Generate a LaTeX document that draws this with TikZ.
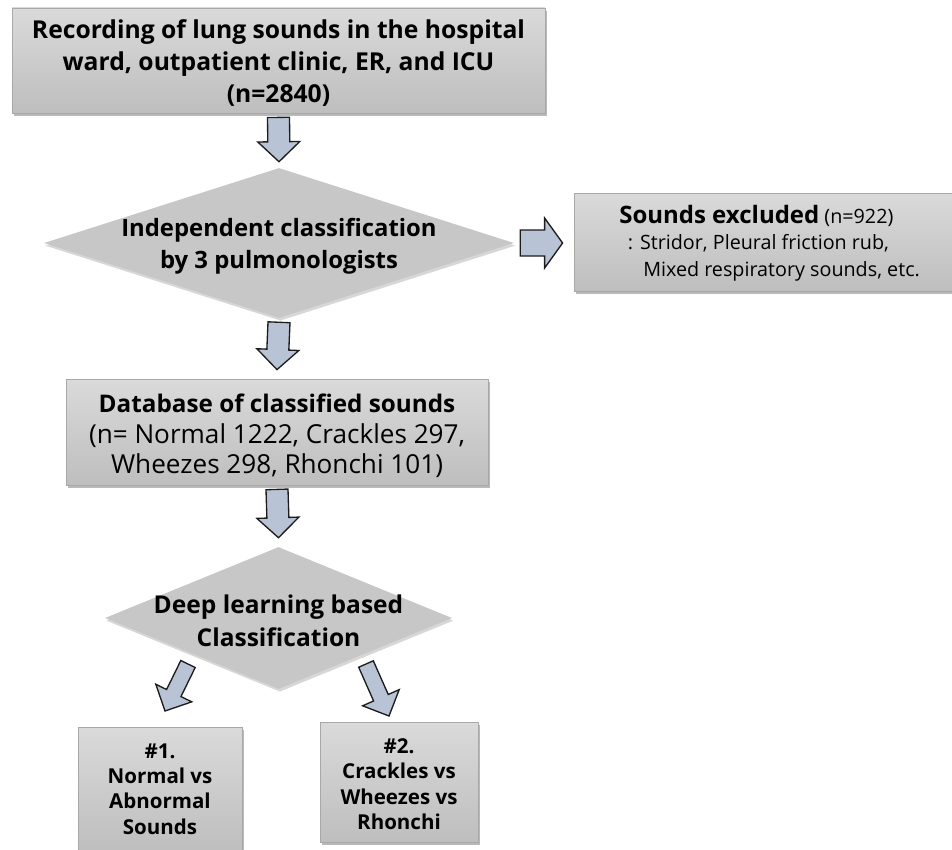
\documentclass[tikz,border=0pt]{standalone}
\usepackage{fontspec}
\setmainfont{Open Sans}
\usetikzlibrary{shapes.geometric,shadows,calc}
\definecolor{boxtop}{HTML}{DADADA}
\definecolor{boxbot}{HTML}{BEBEBE}
\definecolor{boxline}{HTML}{A8A8A8}
\definecolor{arrfill}{HTML}{B8C3D5}
\definecolor{arrline}{HTML}{1C1C1C}
\definecolor{diafill}{HTML}{C7C7C7}
\newcommand\blockarr[5]{%
  \coordinate (ba-h) at ($(#2)!#5!(#1)$);
  \draw[barr] ($(#1)!#3!90:(#2)$) -- ($(ba-h)!#3!90:(#2)$) -- ($(ba-h)!#4!90:(#2)$) -- (#2)
    -- ($(ba-h)!#4!-90:(#2)$) -- ($(ba-h)!#3!-90:(#2)$) -- ($(#1)!#3!-90:(#2)$) -- cycle;}
\begin{document}
\begin{tikzpicture}[x=0.75pt,y=-0.75pt,
  box/.style={draw=boxline, line width=0.6pt, top color=boxtop, bottom color=boxbot,
    inner sep=0pt, drop shadow={shadow xshift=1.5pt, shadow yshift=-2.5pt, fill=black!50, opacity=0.55}},
  dia/.style={diamond, fill=diafill, inner sep=0pt,
    drop shadow={shadow xshift=1pt, shadow yshift=-2pt, fill=black!35, opacity=0.45}},
  txt/.style={align=center, inner sep=0pt},
  smalltxt/.style={txt, font=\fontsize{15.4}{19}\selectfont\bfseries},
  barr/.style={draw=arrline, line width=1pt, fill=arrfill, line join=miter}]
\useasboundingbox (0,0) rectangle (952,849);

% boxes and diamonds
\node[box, minimum width=533*0.75pt, minimum height=105*0.75pt] (rec) at (278.5,60.5) {};
\node[txt, font=\fontsize{18.5}{24}\selectfont\bfseries] (rect) at (278.5,63)
  {Recording of lung sounds in the hospital\\ward, outpatient clinic, ER, and ICU\\(n=2840)};

\node[dia, minimum width=470*0.75pt, minimum height=150*0.75pt] (d1) at (279,243) {};
\node[txt, font=\fontsize{17.9}{24}\selectfont\bfseries] (d1t) at (279,246)
  {Independent classification\\by 3 pulmonologists};

\node[box, minimum width=380*0.75pt, minimum height=98*0.75pt] (excl) at (764,242) {};
\node[txt, align=left, anchor=west, font=\fontsize{14.8}{20}\selectfont] (exclt) at (619,243)
  {{\fontsize{18}{20}\selectfont\bfseries Sounds excluded} (n=922)\\
   \hspace*{6.5pt}: Stridor, Pleural friction rub,\\
   \hspace*{18pt}Mixed respiratory sounds, etc.};

\node[box, minimum width=422*0.75pt, minimum height=106*0.75pt] (db) at (277,432) {};
\node[txt, font=\fontsize{19.6}{23}\selectfont] (dbt) at (277,436)
  {{\fontsize{18.2}{23}\selectfont\bfseries Database of classified sounds}\\(n= Normal 1222, Crackles 297,\\Wheezes 298, Rhonchi 101)};

\node[dia, minimum width=347*0.75pt, minimum height=142*0.75pt] (d2) at (278.5,618) {};
\node[txt, font=\fontsize{18.4}{24.5}\selectfont\bfseries] (d2t) at (278.5,621)
  {Deep learning based\\Classification};

\node[box, minimum width=164*0.75pt, minimum height=125*0.75pt] (b1) at (160,789.5) {};
\node[smalltxt] (b1t) at (160,789) {\#1.\\Normal vs\\Abnormal\\Sounds};

\node[box, minimum width=158*0.75pt, minimum height=120*0.75pt] (b2) at (399,782) {};
\node[smalltxt] (b2t) at (399,784) {\#2.\\Crackles vs\\Wheezes vs\\Rhonchi};

% block arrows
\coordinate (a1s) at ($(rec.south)+(0,4)$);
\coordinate (a1e) at ($(d1.north)+(0,-6)$);
\blockarr{a1s}{a1e}{8.25pt}{15.75pt}{15pt}

\coordinate (a2s) at ($(d1.east)+(6,0)$);
\coordinate (a2e) at ($(d1.east -| excl.west)+(-11,0)$);
\blockarr{a2s}{a2e}{9.75pt}{18.75pt}{13.5pt}

\coordinate (a3s) at ($(d1.south)+(0,4)$);
\coordinate (a3e) at ($(db.north)+(0,-9)$);
\blockarr{a3s}{a3e}{8.25pt}{15.75pt}{15pt}

\coordinate (a4s) at ($(db.south)+(0,4)$);
\coordinate (a4e) at ($(d2.north)+(0,-9)$);
\blockarr{a4s}{a4e}{8.25pt}{15.75pt}{15pt}

\coordinate (a5s) at (188,664);
\coordinate (a5e) at (165,711);
\blockarr{a5s}{a5e}{6pt}{15pt}{15pt}

\coordinate (a6s) at (366,664);
\coordinate (a6e) at (389,716);
\blockarr{a6s}{a6e}{6pt}{15pt}{15pt}
\end{tikzpicture}
\end{document}
